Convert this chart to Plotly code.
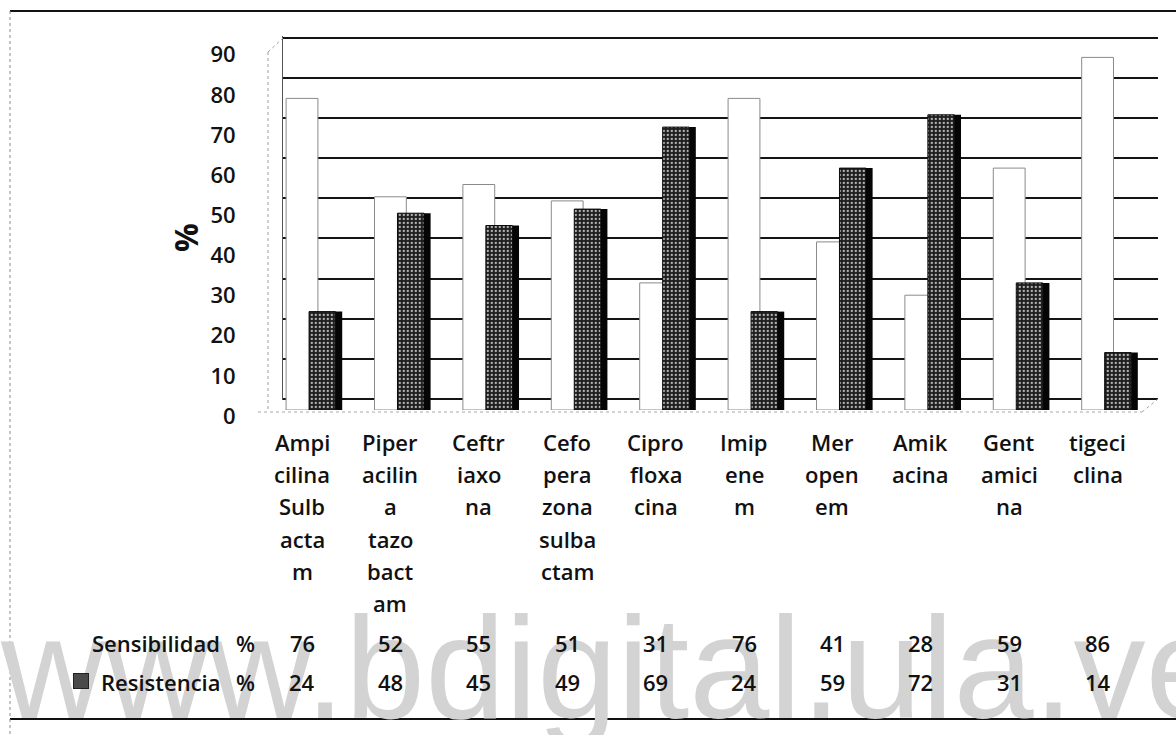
import plotly.graph_objects as go

# ---- data -------------------------------------------------------------
categories = [
    "Ampicilina Sulbactam", "Piperacilina tazobactam", "Ceftriaxona",
    "Cefoperazona sulbactam", "Ciprofloxacina", "Imipenem", "Meropenem",
    "Amikacina", "Gentamicina", "tigeciclina",
]
category_lines = [
    ["Ampi", "cilina", "Sulb", "acta", "m"],
    ["Piper", "acilin", "a", "tazo", "bact", "am"],
    ["Ceftr", "iaxo", "na"],
    ["Cefo", "pera", "zona", "sulba", "ctam"],
    ["Cipro", "floxa", "cina"],
    ["Imip", "ene", "m"],
    ["Mer", "open", "em"],
    ["Amik", "acina"],
    ["Gent", "amici", "na"],
    ["tigeci", "clina"],
]
sensibilidad = [76, 52, 55, 51, 31, 76, 41, 28, 59, 86]
resistencia = [24, 48, 45, 49, 69, 24, 59, 72, 31, 14]
y_ticks = [0, 10, 20, 30, 40, 50, 60, 70, 80, 90]

# ---- canvas helpers ---------------------------------------------------
W, H = 1176, 735


def fx(p):
    return p / W


def fy(p):
    return 1 - p / H


TEXT_FONT = dict(family="Open Sans, Liberation Sans, sans-serif", size=22,
                 color="#111111", weight=600)

fig = go.Figure()

# back-wall subplot (gridlines + value axis); carries no marks
fig.add_trace(go.Scatter(x=[], y=[], xaxis="x", yaxis="y",
                         showlegend=False, hoverinfo="skip"))

# front subplot with the columns
fig.add_trace(go.Bar(
    x=categories, y=sensibilidad, name="Sensibilidad  %",
    xaxis="x2", yaxis="y2", width=0.36, offset=-0.18,
    marker=dict(color="#ffffff", line=dict(color="#8a8a8a", width=1)),
    showlegend=False, hoverinfo="x+y",
))
fig.add_trace(go.Bar(
    x=categories, y=resistencia, name="Resistencia  %",
    xaxis="x2", yaxis="y2", width=0.30, offset=0.08,
    marker=dict(
        color="#1e1e1e",
        line=dict(color="#0a0a0a", width=1),
        pattern=dict(shape=".", fillmode="replace", bgcolor="#1e1e1e",
                     fgcolor="#b8b8b8", size=4, solidity=0.25),
    ),
    showlegend=False, hoverinfo="x+y",
))
# dark side face of the resistance columns
fig.add_trace(go.Bar(
    x=categories, y=resistencia, name="",
    xaxis="x2", yaxis="y2", width=0.075, offset=0.38,
    marker=dict(color="#050505", line=dict(width=0)),
    showlegend=False, hoverinfo="skip",
))

# ---- annotations ------------------------------------------------------
annotations = []

# watermark (drawn first so the table text sits over it)
annotations.append(dict(
    text="www.bdigital.ula.ve", xref="paper", yref="paper",
    x=fx(-2), y=fy(668), xanchor="left", yanchor="middle", showarrow=False,
    font=dict(family="Liberation Sans, Arial, sans-serif", size=144,
              color="#d3d3d3", weight=400),
))

# legend key for the resistance row
annotations.append(dict(
    text=" ", xref="paper", yref="paper", x=fx(81), y=fy(681),
    xanchor="center", yanchor="middle", showarrow=False,
    width=14, height=14, bgcolor="#4a4a4a", bordercolor="#222222",
    borderwidth=1, borderpad=0, font=dict(size=8),
))

# axis title
annotations.append(dict(
    text="%", xref="paper", yref="paper", x=fx(186), y=fy(238),
    xanchor="center", yanchor="middle", textangle=-90, showarrow=False,
    font=dict(family="Open Sans, sans-serif", size=32, color="#111111",
              weight=700),
))

# category labels, one line at a time
LINE_TOP, LINE_STEP = 442, 32.2
for cat, lines in zip(categories, category_lines):
    for j, part in enumerate(lines):
        annotations.append(dict(
            text=part, xref="x2", yref="paper", x=cat,
            y=fy(LINE_TOP + j * LINE_STEP), xanchor="center",
            yanchor="middle", showarrow=False, font=TEXT_FONT,
        ))

# data table rows
ROW_Y = {"Sensibilidad": 643, "Resistencia": 682}
for row_name, values in (("Sensibilidad", sensibilidad),
                         ("Resistencia", resistencia)):
    yy = fy(ROW_Y[row_name])
    annotations.append(dict(
        text=row_name, xref="paper", yref="paper", x=fx(222), y=yy,
        xanchor="right", yanchor="middle", showarrow=False, font=TEXT_FONT,
    ))
    annotations.append(dict(
        text="%", xref="paper", yref="paper", x=fx(245), y=yy,
        xanchor="center", yanchor="middle", showarrow=False, font=TEXT_FONT,
    ))
    for cat, v in zip(categories, values):
        annotations.append(dict(
            text=str(v), xref="x2", yref="paper", x=cat, y=yy,
            xanchor="center", yanchor="middle", showarrow=False,
            font=TEXT_FONT,
        ))

# ---- frame / 3-D decoration shapes -------------------------------------
shapes = [
    # outer frame: top rule, left dashed edge, bottom rule
    dict(type="line", xref="paper", yref="paper", x0=fx(10), x1=fx(1176),
         y0=fy(11), y1=fy(11), line=dict(color="#111111", width=2)),
    dict(type="line", xref="paper", yref="paper", x0=fx(10), x1=fx(10),
         y0=fy(11), y1=fy(735), line=dict(color="#8a8a8a", width=1,
                                           dash="dot")),
    dict(type="line", xref="paper", yref="paper", x0=fx(10), x1=fx(1176),
         y0=fy(719), y1=fy(719), line=dict(color="#111111", width=2),
         layer="below"),
    # side wall and floor edges
    dict(type="line", xref="paper", yref="paper", x0=fx(268), x1=fx(268),
         y0=fy(52), y1=fy(412), line=dict(color="#a0a0a0", width=1,
                                           dash="dot")),
    dict(type="line", xref="paper", yref="paper", x0=fx(268), x1=fx(283),
         y0=fy(52), y1=fy(38), line=dict(color="#a0a0a0", width=1,
                                          dash="dot")),
    dict(type="line", xref="paper", yref="paper", x0=fx(258), x1=fx(1142),
         y0=fy(412), y1=fy(412), line=dict(color="#a8a8a8", width=1,
                                            dash="dot")),
    dict(type="line", xref="paper", yref="paper", x0=fx(1142), x1=fx(1158),
         y0=fy(412), y1=fy(399), line=dict(color="#a8a8a8", width=1,
                                            dash="dot")),
]

# ---- layout ------------------------------------------------------------
GRID_TOP, GRID_BOTTOM = 37.7, 399.0      # pixel rows of 90 and 0 on the wall
px_per_unit = (GRID_BOTTOM - GRID_TOP) / 90
pad = 0.3
BAR_TOP, BAR_BOTTOM = 41.0, 410.0        # pixel rows of 90 and 0 at the front

fig.update_layout(
    width=W, height=H,
    margin=dict(l=0, r=0, t=0, b=0, autoexpand=False),
    paper_bgcolor="#ffffff",
    plot_bgcolor="rgba(0,0,0,0)",
    barmode="overlay",
    showlegend=False,
    font=TEXT_FONT,
    xaxis=dict(domain=[fx(283), fx(1158)], range=[0, 1], showgrid=False,
               zeroline=False, showticklabels=False, showline=False,
               fixedrange=True),
    yaxis=dict(
        domain=[fy(GRID_BOTTOM + pad * px_per_unit),
                fy(GRID_TOP - pad * px_per_unit)],
        range=[-pad, 90 + pad], tickvals=y_ticks,
        ticktext=[str(t) for t in y_ticks],
        showgrid=True, gridcolor="#141414", gridwidth=2,
        zeroline=False, showline=True, linecolor="#555555", linewidth=1,
        ticks="", ticklabelstandoff=42, ticklabelshift=17,
        tickfont=TEXT_FONT, fixedrange=True,
    ),
    xaxis2=dict(domain=[fx(257.8), fx(1141.8)], type="category",
                range=[-0.5, 9.5], anchor="y2", showgrid=False,
                zeroline=False, showticklabels=False, showline=False,
                fixedrange=True),
    yaxis2=dict(domain=[fy(BAR_BOTTOM), fy(BAR_TOP)], range=[0, 90],
                anchor="x2", showgrid=False, zeroline=False,
                showticklabels=False, showline=False, fixedrange=True),
    annotations=annotations,
    shapes=shapes,
)

fig.write_html("out.html")
